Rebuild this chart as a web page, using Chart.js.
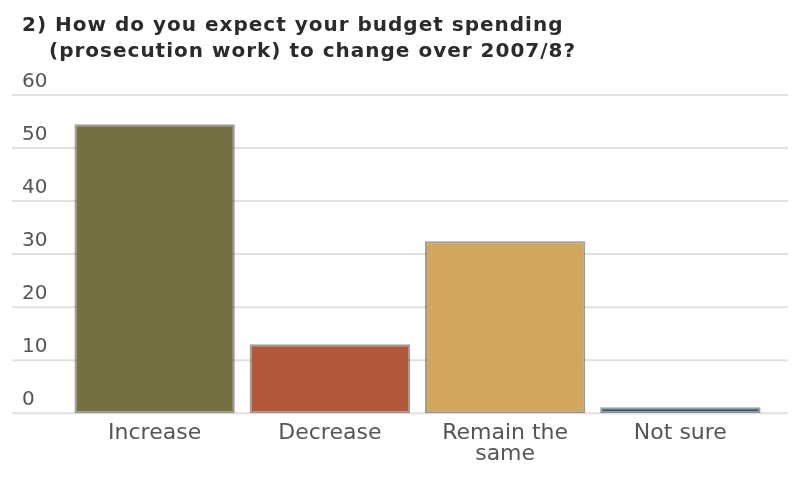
<!DOCTYPE html>
<html>
<head>
<meta charset="utf-8">
<script src="https://cdn.jsdelivr.net/npm/chart.js@4"></script>
<style>
  html, body { margin: 0; padding: 0; background: #fff; }
  #wrap { position: relative; width: 800px; height: 480px; }
  #title {
    position: absolute; left: 22px; top: 11px;
    font: bold 20px "DejaVu Sans", sans-serif; color: #2b2b2b;
    letter-spacing: 1px; line-height: 26px; white-space: nowrap;
  }
  #title .l2 { padding-left: 27px; }
  canvas { position: absolute; left: 0; top: 0; }
</style>
</head>
<body>
<div id="wrap">
  <canvas id="budgetChart" width="800" height="480"></canvas>
  <div id="title">2) How do you expect your budget spending<br><span class="l2">(prosecution work) to change over 2007/8?</span></div>
</div>
<script>
// Data
const categories = [["Increase"], ["Decrease"], ["Remain the", "same"], ["Not sure"]];
const values = [54.5, 13, 32.4, 1.1];
const barColors = ["#747044", "#b3573a", "#d1a75e", "#2f5660"];
const yTicks = [0, 10, 20, 30, 40, 50, 60];

// gridlines + tick labels drawn across the full width, under the bars
const gridPlugin = {
    id: 'wideGrid',
    beforeDatasetsDraw(chart) {
        const ctx = chart.ctx;
        const y = chart.scales.y;
        ctx.save();
        ctx.strokeStyle = '#e0e0e0';
        ctx.lineWidth = 2;
        ctx.fillStyle = '#555';
        ctx.font = '20px "DejaVu Sans", sans-serif';
        ctx.textAlign = 'left';
        ctx.textBaseline = 'bottom';
        yTicks.forEach(v => {
            const py = y.getPixelForValue(v);
            ctx.beginPath();
            ctx.moveTo(12, py);
            ctx.lineTo(788, py);
            ctx.stroke();
            ctx.fillText(String(v), 22, py - 3);
        });
        ctx.restore();
    }
};

document.addEventListener('DOMContentLoaded', function() {
    const ctx = document.getElementById('budgetChart');
    new Chart(ctx, {
        type: 'bar',
        data: {
            labels: categories,
            datasets: [{
                data: values,
                backgroundColor: barColors,
                borderColor: 'rgba(60, 60, 60, 0.5)',
                borderWidth: 2,
                borderSkipped: false,
                barPercentage: 0.915,
                categoryPercentage: 1
            }]
        },
        options: {
            responsive: false,
            animation: false,
            layout: { padding: { left: 67, right: 32, top: 95, bottom: 13 } },
            plugins: { legend: { display: false }, tooltip: { enabled: false }, title: { display: false } },
            scales: {
                y: { display: false, min: 0, max: 60, ticks: { stepSize: 10 } },
                x: {
                    grid: { display: false },
                    border: { display: false },
                    ticks: {
                        color: '#555',
                        padding: 2,
                        font: { family: '"DejaVu Sans", sans-serif', size: 22, lineHeight: 0.95 }
                    }
                }
            }
        },
        plugins: [gridPlugin]
    });
});
</script>
</body>
</html>
